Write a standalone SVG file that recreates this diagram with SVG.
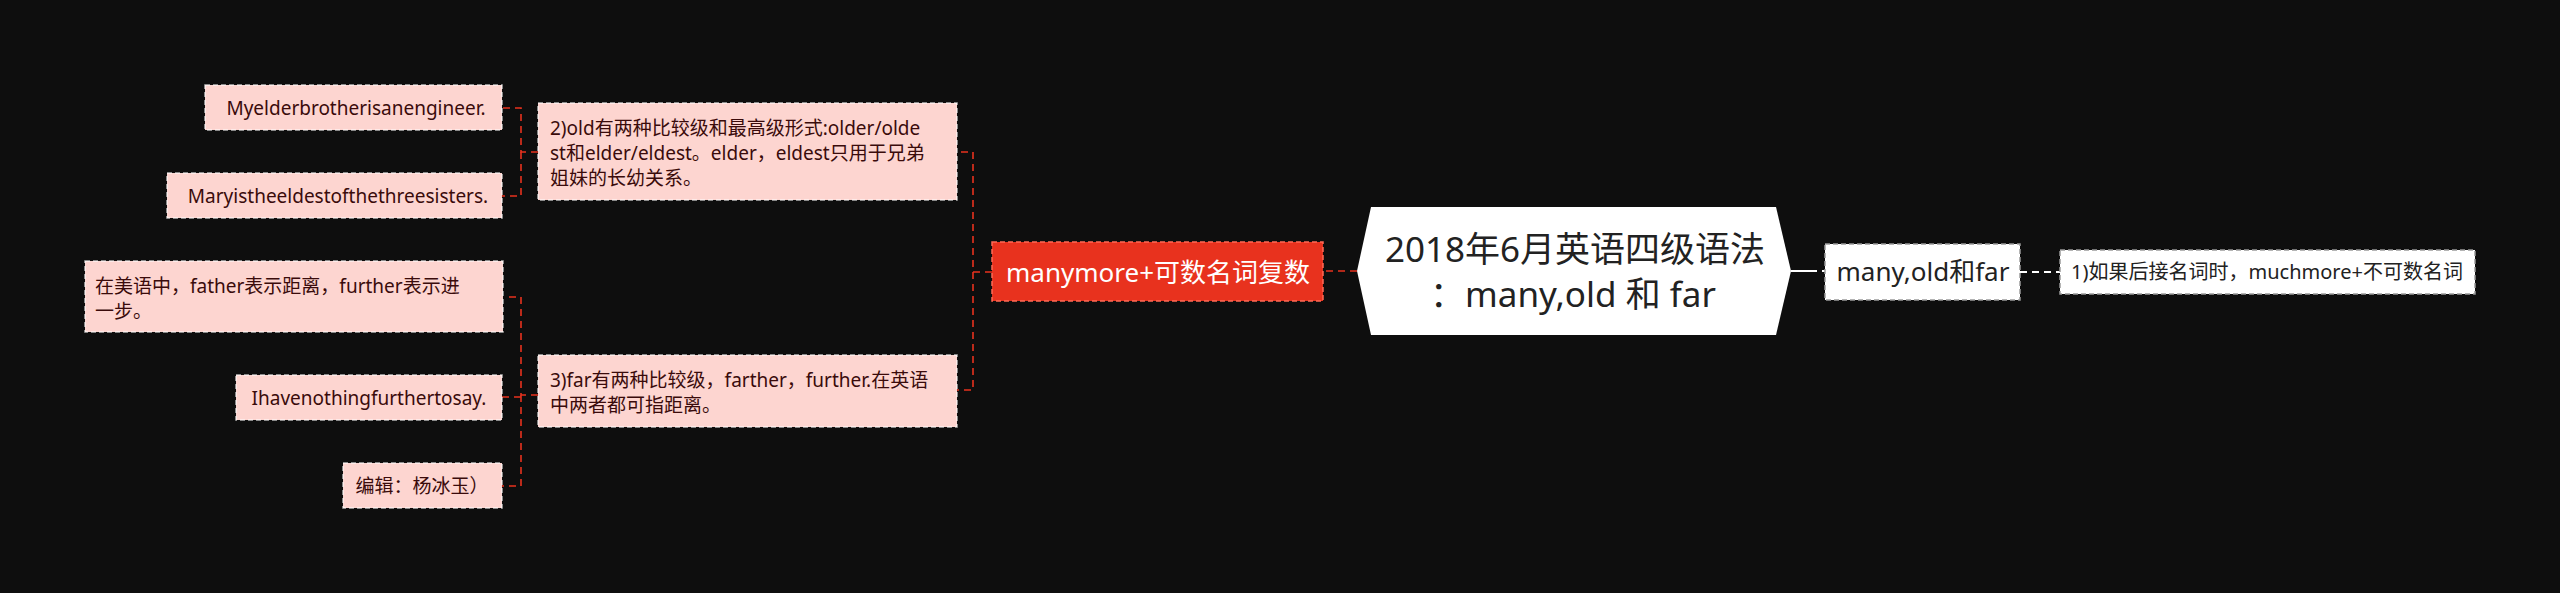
<svg xmlns="http://www.w3.org/2000/svg" width="2560" height="593" viewBox="0 0 2560 593">
<style>
text{font-family:"Noto Sans","Noto Sans CJK SC",sans-serif}
.leaf{fill:#fdd5d0;stroke:#ffffff;stroke-opacity:0.7;stroke-width:1.5;stroke-dasharray:5 3}
.lt{fill:#3a0b0b;font-size:19px}
.wbox{fill:#ffffff;stroke:#9a9a9a;stroke-width:1.5;stroke-dasharray:5 3}
.red{fill:none;stroke:#e8321e;stroke-width:1.6;stroke-dasharray:7 5}
.wl{fill:none;stroke:#ffffff;stroke-width:2}
</style>
<rect width="2560" height="593" fill="#0e0e0e"/>
<g id="connectors">
<path class="red" d="M1357,271 H1323"/>
<path class="red" d="M992,272 H973 V152 H957"/>
<path class="red" d="M973,272 V390 H957"/>
<path class="red" d="M538,152 H521 V108 H502"/>
<path class="red" d="M521,152 V196 H502"/>
<path class="red" d="M538,395 H521 V297 H505"/>
<path class="red" d="M521,395 V486 H502"/>
<path class="red" d="M521,397 H502"/>
<path class="wl" d="M1791,271 H1810"/>
<path class="wl" d="M1810,271 H1825" stroke-dasharray="7 5"/>
<path class="wl" d="M2020,272 H2060" stroke-dasharray="7 5"/>
</g>
<g id="root">
<polygon points="1357,271 1371,207 1776,207 1791,271 1776,335 1371,335" fill="#ffffff"/>
<text x="1575" y="262" font-size="35" fill="#222" text-anchor="middle">2018年6月英语四级语法</text>
<text x="1573" y="307" font-size="35" fill="#222" text-anchor="middle">：many,old 和 far</text>
</g>
<g id="n-many">
<rect class="wbox" x="1825" y="244" width="195" height="56"/>
<text x="1923" y="281" font-size="26" fill="#222" text-anchor="middle">many,old和far</text>
</g>
<g id="n-much">
<rect class="wbox" x="2060" y="250" width="415" height="44"/>
<text x="2267" y="279" font-size="20" fill="#222" text-anchor="middle">1)如果后接名词时，muchmore+不可数名词</text>
</g>
<g id="n-manymore">
<rect x="992" y="242" width="331" height="59" fill="#e8321e" stroke="#ff6a55" stroke-width="1.5" stroke-dasharray="5 3"/>
<text x="1158" y="282" font-size="26" fill="#ffffff" text-anchor="middle">manymore+可数名词复数</text>
</g>
<g id="n-old">
<rect class="leaf" x="538" y="103" width="419" height="97"/>
<text class="lt" x="550" y="135">2)old有两种比较级和最高级形式:older/olde</text>
<text class="lt" x="550" y="160">st和elder/eldest。elder，eldest只用于兄弟</text>
<text class="lt" x="550" y="185">姐妹的长幼关系。</text>
</g>
<g id="n-far">
<rect class="leaf" x="538" y="355" width="419" height="72"/>
<text class="lt" x="550" y="387" font-size="19.5">3)far有两种比较级，farther，further.在英语</text>
<text class="lt" x="550" y="412" font-size="19.5">中两者都可指距离。</text>
</g>
<g id="n-my">
<rect class="leaf" x="205" y="85" width="297" height="45"/>
<text class="lt" x="356" y="115" text-anchor="middle" font-size="20.3">Myelderbrotherisanengineer.</text>
</g>
<g id="n-mary">
<rect class="leaf" x="167" y="173" width="335" height="45"/>
<text class="lt" x="338" y="203" text-anchor="middle" font-size="19.6">Maryistheeldestofthethreesisters.</text>
</g>
<g id="n-father">
<rect class="leaf" x="85" y="261" width="418" height="71"/>
<text class="lt" x="95" y="293" font-size="20">在美语中，father表示距离，further表示进</text>
<text class="lt" x="95" y="318" font-size="20">一步。</text>
</g>
<g id="n-ihave">
<rect class="leaf" x="236" y="375" width="266" height="45"/>
<text class="lt" x="369" y="405" text-anchor="middle" font-size="20">Ihavenothingfurthertosay.</text>
</g>
<g id="n-edit">
<rect class="leaf" x="343" y="463" width="159" height="45"/>
<text class="lt" x="422" y="493" text-anchor="middle">编辑：杨冰玉）</text>
</g>
</svg>
